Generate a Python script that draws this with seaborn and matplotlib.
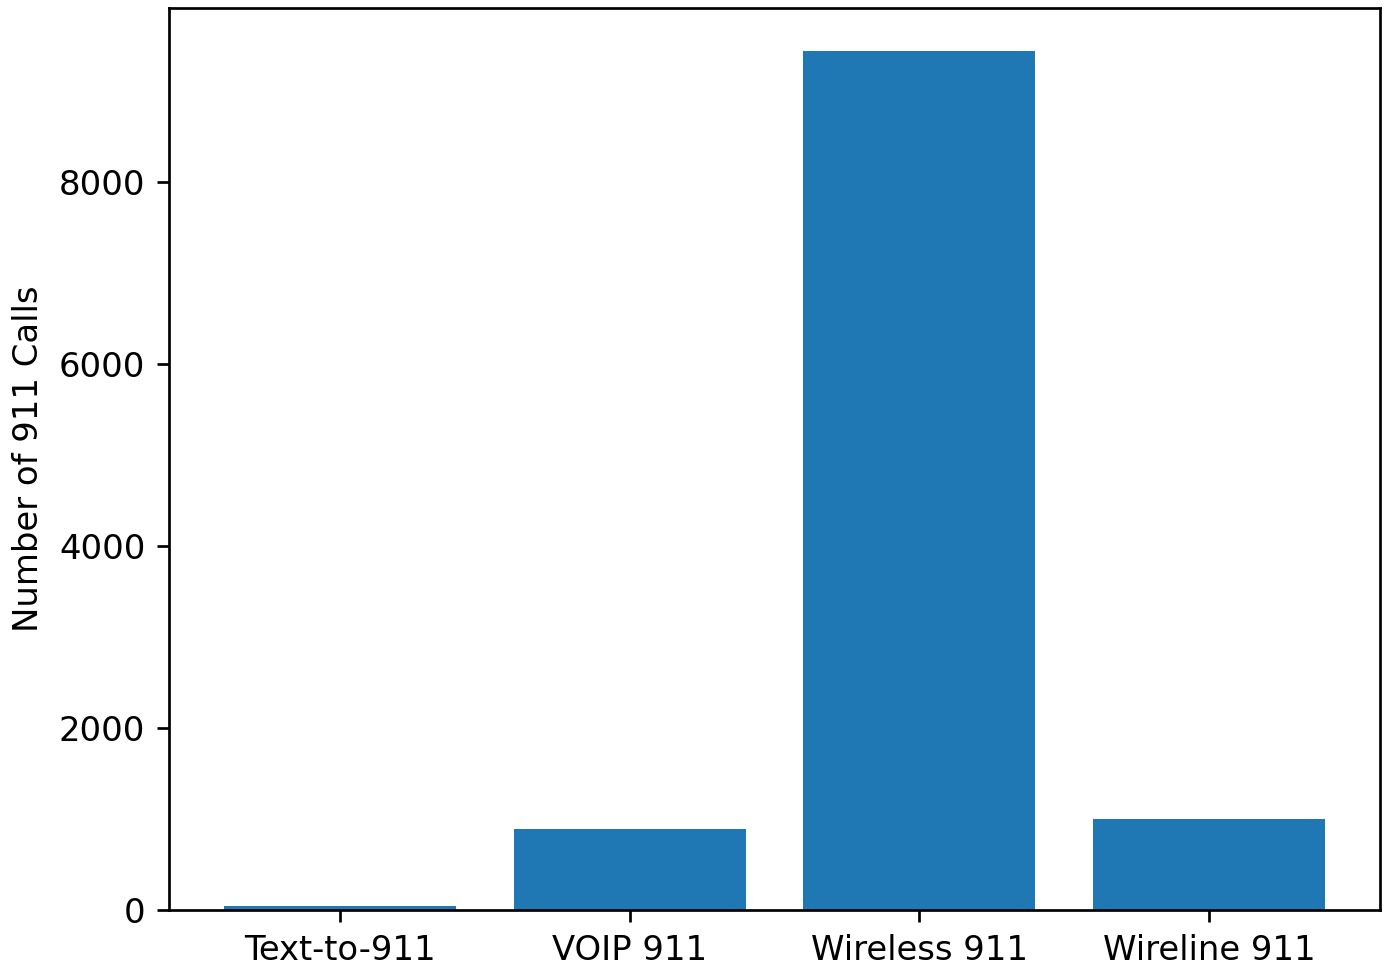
import pandas as pd
import matplotlib
matplotlib.use("Agg")
import matplotlib.pyplot as plt
import seaborn as sns

# Tipos de llamadas y totales
tipos = ['Text-to-911', 'VOIP 911', 'Wireless 911', 'Wireline 911']
llamadas = [42, 895, 9440, 1000]

datos = pd.DataFrame({'Tipo': tipos, 'Llamadas': llamadas})

# todo un poco mas grande que lo normal (escala ~1.13)
plt.rcParams['font.size'] = 11.3
plt.rcParams['axes.linewidth'] = 0.9
plt.rcParams['axes.labelpad'] = 4.5

fig = plt.figure(figsize=(1385 / 216, 967 / 216), dpi=216)
ax = fig.add_axes([0.1220, 0.0589, 0.8744, 0.9328])

sns.barplot(data=datos, x='Tipo', y='Llamadas', color='#1f77b4',
            saturation=1, width=0.8, ax=ax)

ax.set_xlim(-0.59, 3.59)
ax.set_ylim(0, max(llamadas) * 1.05)
ax.set_xlabel('')
ax.set_ylabel('Number of 911 Calls')
ax.tick_params(labelsize=11.3, length=3.95, width=0.9, pad=3.95)
for s in ax.spines.values():
    s.set_visible(True)
    s.set_color('black')

plt.savefig('out.png', dpi=216)
